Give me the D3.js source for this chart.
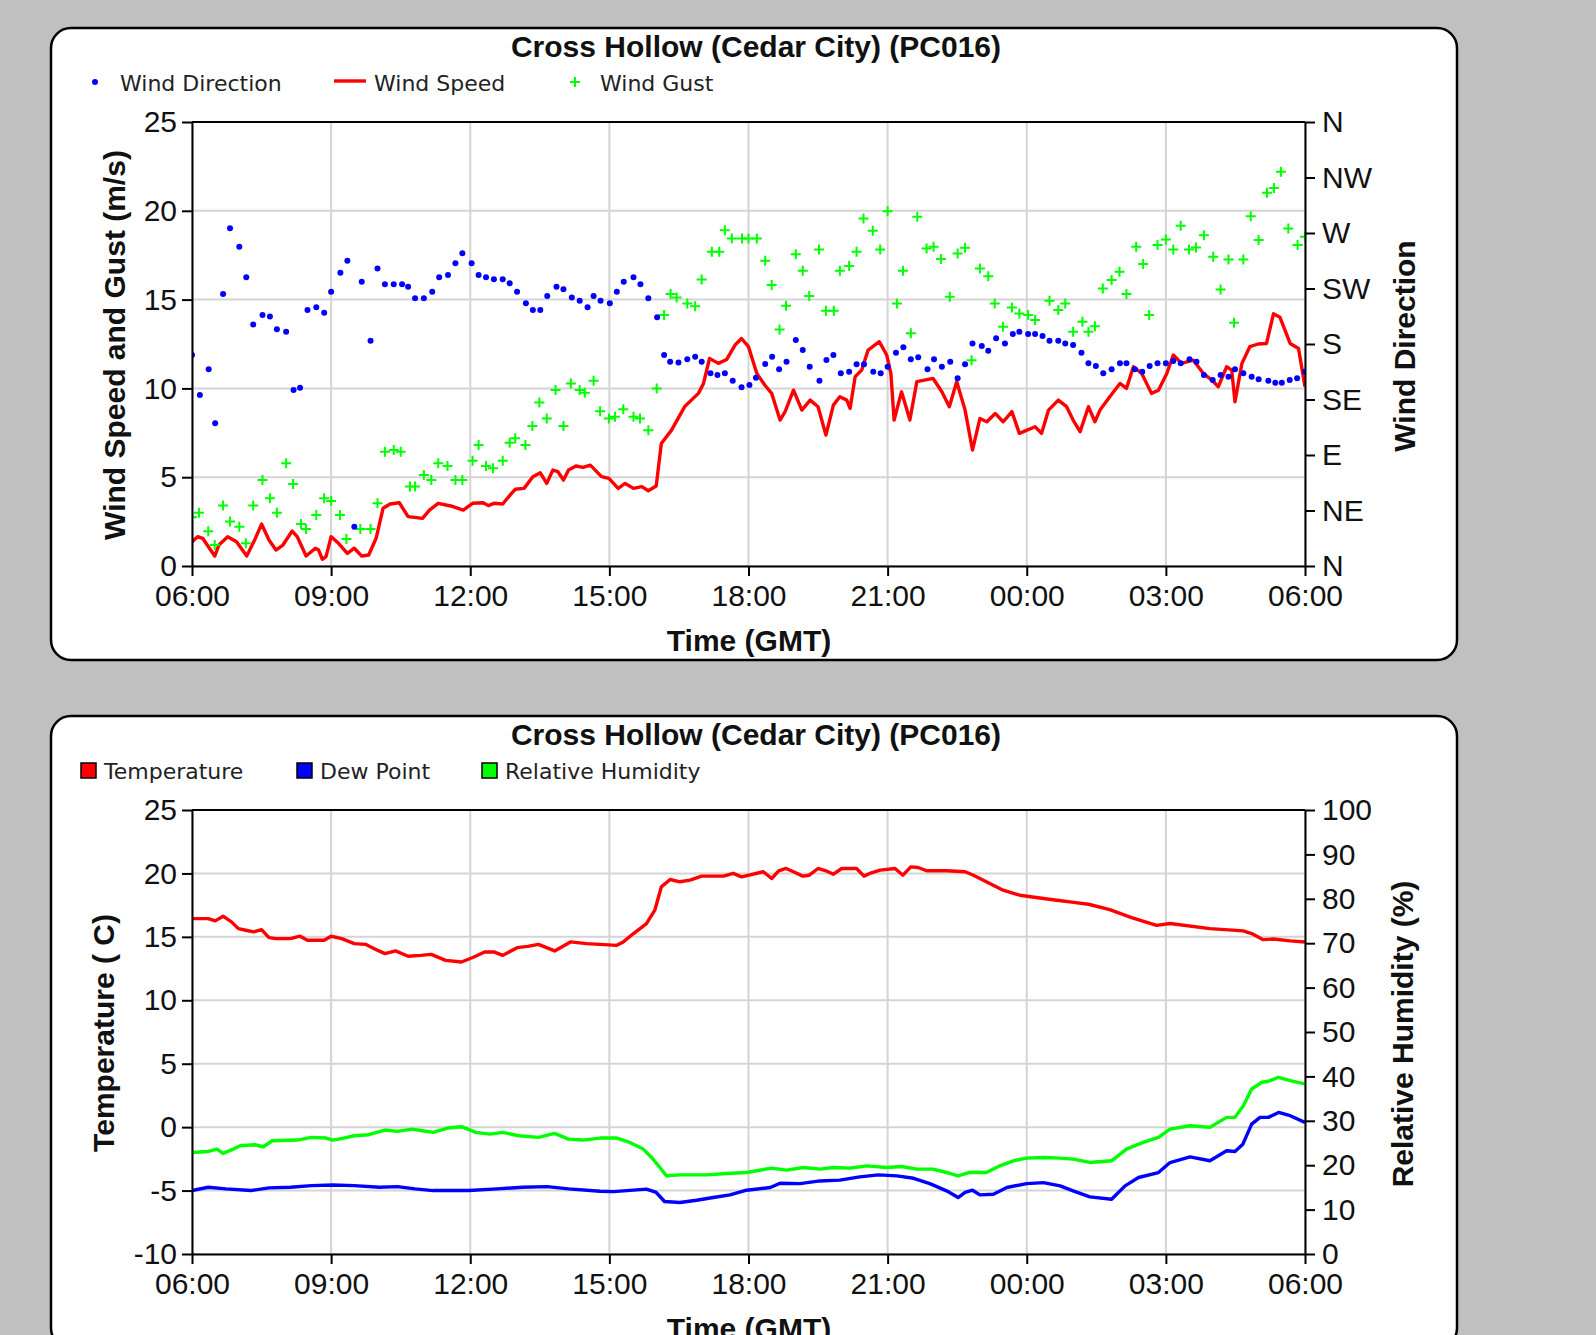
<!DOCTYPE html>
<html>
<head>
<meta charset="utf-8">
<script src="https://cdn.jsdelivr.net/npm/d3@7"></script>
<style>
html, body { margin: 0; padding: 0; background: #c0c0c0; overflow: hidden; }
svg { display: block; }
.tick text { font-family: 'Liberation Sans', Arial, sans-serif; font-size: 30px; fill: #111; }
.title { font-family: 'Liberation Sans', Arial, sans-serif; font-weight: bold; font-size: 30px; fill: #111; }
.legend { font-family: 'DejaVu Sans', Verdana, sans-serif; font-size: 22px; fill: #222; }
</style>
</head>
<body>
<svg id="page" width="1596" height="1335"></svg>
<script>
'use strict';

// every pair: [hours after 06:00 GMT, value]
var windDirection = [[0,171.1],[0.17,138.6],[0.36,159.5],[0.5,115.7],[0.67,220.5],[0.82,273.8],[1.02,258.9],[1.17,234.1],[1.32,195.9],[1.52,203.5],[1.68,202.2],[1.83,191.9],[2.03,190],[2.19,142.7],[2.33,144.6],[2.49,207.6],[2.68,209.7],[2.85,205.4],[3.0,222.4],[3.2,237.8],[3.35,247.6],[3.5,31.9],[3.66,230.5],[3.85,182.7],[4.0,241.3],[4.16,228.4],[4.35,228.4],[4.53,228.4],[4.66,226.5],[4.81,217],[5.0,217],[5.18,222.4],[5.33,234.1],[5.52,236],[5.68,245.4],[5.83,253.5],[6.03,245.4],[6.18,236],[6.34,234.1],[6.51,232.4],[6.7,232.4],[6.85,229.2],[7.01,222.4],[7.2,213],[7.35,207.6],[7.51,207.6],[7.66,218.9],[7.86,226.5],[8.01,224.3],[8.19,217.8],[8.36,215.1],[8.53,209.7],[8.66,218.9],[8.81,215.1],[9.01,213],[9.16,222.4],[9.31,230.5],[9.52,234.1],[9.67,228.4],[9.84,217],[10.03,201.6],[10.18,171.1],[10.31,165.7],[10.49,165.1],[10.68,167.6],[10.85,169.7],[10.99,165.7],[11.18,156.2],[11.33,154.9],[11.49,156.2],[11.66,150.3],[11.85,144.9],[12.02,146.8],[12.16,152.7],[12.36,163.8],[12.51,169.7],[12.66,159.5],[12.82,165.7],[13.02,183.2],[13.17,175.1],[13.32,161.6],[13.53,150.3],[13.68,167],[13.83,171.1],[13.99,156.2],[14.17,157.6],[14.33,163.5],[14.49,163.5],[14.69,157.6],[14.85,156.2],[15.0,161.6],[15.18,173],[15.34,177.3],[15.5,167.6],[15.66,169.2],[15.86,159.5],[16.0,167.6],[16.17,161.6],[16.35,165.7],[16.51,152.2],[16.67,163.5],[16.83,180.5],[17.03,178.4],[17.17,174.6],[17.34,184.6],[17.53,180.5],[17.7,188.1],[17.84,190],[18.03,188.1],[18.18,188.1],[18.34,186.5],[18.49,182.7],[18.68,182.7],[18.83,180.5],[19.0,179.2],[19.18,173],[19.33,164.3],[19.49,162.2],[19.65,156.2],[19.83,159.5],[20.01,164.3],[20.15,164.3],[20.33,159.5],[20.49,157.6],[20.65,162.2],[20.82,164.3],[21.0,164.3],[21.16,166.2],[21.32,164.3],[21.51,167.6],[21.66,165.7],[21.82,154.9],[22.01,150.8],[22.18,154.9],[22.35,153.5],[22.49,159.5],[22.67,156.2],[22.85,153.5],[23.0,151.4],[23.21,150.3],[23.36,148.6],[23.5,148.6],[23.67,150.8],[23.83,152.2],[24.0,157.6]];

var windSpeed = [[0,1.37],[0.12,1.65],[0.23,1.56],[0.35,1.1],[0.49,0.56],[0.58,1.18],[0.77,1.65],[0.96,1.37],[1.18,0.56],[1.35,1.46],[1.5,2.36],[1.66,1.46],[1.81,0.9],[1.96,1.18],[2.16,1.97],[2.27,1.65],[2.46,0.56],[2.66,1.0],[2.73,0.9],[2.81,0.38],[2.89,0.53],[3.0,1.65],[3.16,1.28],[3.35,0.71],[3.5,1.0],[3.66,0.56],[3.81,0.62],[3.97,1.56],[4.12,3.25],[4.27,3.49],[4.47,3.56],[4.66,2.78],[4.97,2.68],[5.12,3.15],[5.31,3.53],[5.58,3.38],[5.85,3.15],[6.05,3.53],[6.28,3.56],[6.39,3.4],[6.51,3.53],[6.7,3.49],[6.89,4.09],[6.97,4.32],[7.16,4.37],[7.35,5.03],[7.51,5.25],[7.65,4.65],[7.78,5.4],[7.89,5.31],[8.01,4.84],[8.12,5.4],[8.28,5.63],[8.43,5.55],[8.59,5.68],[8.83,5.03],[8.99,4.93],[9.19,4.37],[9.34,4.65],[9.52,4.37],[9.7,4.47],[9.84,4.24],[10.01,4.5],[10.12,6.9],[10.34,7.65],[10.63,9.0],[10.92,9.72],[11.03,10.28],[11.16,11.69],[11.35,11.41],[11.53,11.63],[11.71,12.44],[11.85,12.81],[12.0,12.35],[12.18,10.84],[12.35,10.19],[12.5,9.72],[12.68,8.22],[12.79,8.69],[12.97,9.9],[13.15,8.78],[13.33,9.34],[13.5,8.97],[13.67,7.37],[13.83,9.06],[13.97,9.53],[14.12,9.34],[14.19,8.87],[14.3,10.66],[14.44,11.03],[14.58,12.16],[14.82,12.63],[14.98,11.88],[15.07,10.84],[15.14,8.22],[15.3,9.81],[15.48,8.22],[15.63,10.38],[15.98,10.56],[16.17,9.81],[16.33,8.97],[16.49,10.38],[16.67,8.78],[16.83,6.53],[16.99,8.31],[17.14,8.12],[17.32,8.59],[17.49,8.12],[17.68,8.69],[17.84,7.47],[18.18,7.84],[18.32,7.47],[18.47,8.78],[18.68,9.34],[18.86,8.97],[19.0,8.22],[19.15,7.56],[19.33,8.97],[19.47,8.12],[19.58,8.78],[19.79,9.53],[20.01,10.28],[20.15,10.0],[20.3,11.22],[20.48,10.84],[20.69,9.72],[20.84,9.9],[21.02,10.84],[21.16,11.88],[21.34,11.41],[21.59,11.59],[21.81,10.84],[21.99,10.47],[22.13,10.09],[22.31,11.22],[22.42,11.03],[22.49,9.25],[22.64,11.41],[22.81,12.35],[22.99,12.5],[23.17,12.53],[23.32,14.2],[23.46,14.0],[23.68,12.53],[23.86,12.25],[24.0,10.09]];

var windGust = [[0,2.74],[0.15,3.0],[0.35,1.95],[0.49,1.18],[0.67,3.4],[0.82,2.5],[1.02,2.21],[1.16,1.28],[1.32,3.4],[1.52,4.84],[1.68,3.81],[1.83,3.0],[2.03,5.78],[2.18,4.62],[2.35,2.36],[2.46,2.08],[2.68,2.87],[2.85,3.81],[3.0,3.66],[3.19,2.87],[3.33,1.52],[3.63,2.08],[3.85,2.08],[4.0,3.53],[4.16,6.43],[4.35,6.53],[4.5,6.43],[4.7,4.47],[4.81,4.47],[5.0,5.12],[5.16,4.84],[5.31,5.78],[5.51,5.63],[5.68,4.84],[5.83,4.84],[6.05,5.93],[6.18,6.81],[6.34,5.63],[6.49,5.5],[6.7,5.93],[6.85,6.94],[6.97,7.19],[7.19,6.81],[7.34,7.88],[7.49,9.21],[7.65,8.31],[7.84,9.91],[8.01,7.88],[8.17,10.28],[8.36,9.91],[8.47,9.76],[8.66,10.43],[8.8,8.72],[8.99,8.31],[9.12,8.4],[9.3,8.82],[9.52,8.4],[9.66,8.31],[9.84,7.65],[10.02,10.0],[10.18,14.13],[10.32,15.31],[10.45,15.12],[10.68,14.78],[10.85,14.63],[10.99,16.13],[11.21,17.69],[11.37,17.69],[11.49,18.91],[11.64,18.44],[11.86,18.44],[12.0,18.44],[12.18,18.44],[12.36,17.19],[12.5,15.82],[12.67,13.32],[12.81,14.65],[13.02,17.56],[13.17,16.62],[13.31,15.2],[13.52,17.82],[13.67,14.37],[13.84,14.37],[13.97,16.62],[14.17,16.89],[14.33,17.69],[14.48,19.57],[14.68,18.87],[14.84,17.82],[15.0,19.98],[15.2,14.78],[15.33,16.62],[15.5,13.1],[15.64,19.66],[15.84,17.88],[15.99,17.97],[16.15,17.28],[16.34,15.16],[16.51,17.6],[16.67,17.92],[16.81,11.59],[16.99,16.75],[17.17,16.32],[17.31,14.78],[17.49,13.47],[17.68,14.56],[17.84,14.22],[18.03,14.13],[18.18,13.85],[18.49,14.93],[18.68,14.41],[18.83,14.78],[19.0,13.19],[19.2,13.75],[19.33,13.19],[19.47,13.5],[19.64,15.63],[19.83,16.1],[20.0,16.57],[20.15,15.31],[20.36,17.97],[20.51,17.0],[20.64,14.13],[20.82,18.07],[21.0,18.39],[21.16,17.82],[21.32,19.16],[21.5,17.82],[21.65,17.94],[21.82,18.63],[22.02,17.41],[22.18,15.57],[22.35,17.26],[22.47,13.7],[22.67,17.26],[22.83,19.7],[23.0,18.35],[23.18,21.01],[23.33,21.29],[23.48,22.2],[23.64,19.0],[23.84,18.07],[24.0,18.54]];

var temperature = [[0,16.44],[0.35,16.44],[0.5,16.26],[0.67,16.63],[0.85,16.18],[1.0,15.65],[1.16,15.52],[1.33,15.39],[1.5,15.57],[1.66,14.94],[1.81,14.86],[2.12,14.86],[2.33,15.05],[2.49,14.73],[2.85,14.73],[3.0,15.05],[3.23,14.86],[3.5,14.47],[3.74,14.41],[3.93,14.07],[4.16,13.68],[4.39,13.89],[4.66,13.47],[4.93,13.54],[5.16,13.62],[5.47,13.15],[5.81,13.02],[6.08,13.41],[6.31,13.81],[6.51,13.81],[6.7,13.54],[7.01,14.15],[7.24,14.25],[7.47,14.41],[7.82,13.89],[8.16,14.6],[8.51,14.47],[8.8,14.41],[9.16,14.33],[9.3,14.6],[9.52,15.26],[9.8,16.05],[9.98,17.1],[10.12,18.94],[10.31,19.52],[10.52,19.34],[10.74,19.47],[10.99,19.79],[11.46,19.79],[11.67,20.0],[11.85,19.73],[12.32,20.13],[12.5,19.6],[12.65,20.21],[12.81,20.39],[12.97,20.13],[13.17,19.79],[13.31,19.86],[13.5,20.39],[13.67,20.21],[13.83,19.94],[14.01,20.39],[14.33,20.39],[14.49,19.79],[14.65,20.05],[14.84,20.26],[15.16,20.39],[15.33,19.86],[15.5,20.52],[15.66,20.47],[15.84,20.21],[16.27,20.21],[16.67,20.13],[16.85,19.86],[17.17,19.26],[17.49,18.68],[17.85,18.28],[18.36,18.02],[18.65,17.89],[18.93,17.76],[19.33,17.57],[19.79,17.15],[20.26,16.52],[20.8,15.91],[21.09,16.05],[21.95,15.65],[22.67,15.47],[22.85,15.26],[23.1,14.78],[23.32,14.83],[23.68,14.68],[24,14.6]];

var dewPoint = [[0,-5.0],[0.35,-4.74],[0.73,-4.87],[1.27,-5.0],[1.66,-4.79],[2.12,-4.74],[2.58,-4.61],[3.04,-4.56],[3.5,-4.61],[4.04,-4.74],[4.43,-4.69],[4.81,-4.87],[5.2,-5.0],[5.97,-5.0],[6.58,-4.87],[7.12,-4.74],[7.66,-4.69],[8.12,-4.87],[8.8,-5.05],[9.09,-5.08],[9.8,-4.89],[10.01,-5.15],[10.19,-5.86],[10.52,-5.94],[10.88,-5.76],[11.24,-5.55],[11.6,-5.34],[11.96,-4.97],[12.47,-4.76],[12.68,-4.42],[13.11,-4.45],[13.54,-4.24],[13.97,-4.18],[14.4,-3.92],[14.8,-3.76],[15.2,-3.84],[15.56,-4.03],[15.91,-4.45],[16.27,-5.02],[16.52,-5.55],[16.67,-5.15],[16.83,-4.97],[16.99,-5.34],[17.28,-5.29],[17.57,-4.76],[18.0,-4.45],[18.36,-4.37],[18.72,-4.63],[19.0,-5.02],[19.36,-5.5],[19.83,-5.68],[20.12,-4.63],[20.41,-3.97],[20.84,-3.58],[21.09,-2.79],[21.52,-2.34],[21.95,-2.65],[22.31,-1.86],[22.49,-1.92],[22.66,-1.34],[22.85,0.24],[23.03,0.77],[23.21,0.77],[23.43,1.16],[23.68,0.9],[24,0.37]];

var humidity = [[0,22.87],[0.35,23.1],[0.54,23.63],[0.67,22.65],[0.89,23.63],[1.04,24.38],[1.35,24.6],[1.54,24.15],[1.73,25.51],[2.27,25.66],[2.58,26.26],[2.89,26.11],[3.04,25.66],[3.27,26.11],[3.5,26.64],[3.81,26.86],[4.16,27.92],[4.43,27.61],[4.74,28.14],[4.97,27.77],[5.2,27.39],[5.51,28.37],[5.81,28.67],[6.12,27.39],[6.43,27.01],[6.7,27.39],[7.05,26.64],[7.47,26.26],[7.82,27.16],[8.12,25.88],[8.43,25.66],[8.8,26.11],[9.16,26.11],[9.44,25.13],[9.73,23.63],[9.91,21.75],[10.09,19.49],[10.23,17.61],[10.52,17.83],[11.1,17.83],[11.53,18.13],[11.96,18.36],[12.5,19.34],[12.82,18.89],[13.18,19.49],[13.54,19.11],[13.83,19.49],[14.19,19.34],[14.55,19.86],[14.98,19.49],[15.3,19.71],[15.63,19.11],[15.98,19.11],[16.27,18.36],[16.52,17.61],[16.77,18.36],[17.13,18.36],[17.42,19.86],[17.71,20.99],[18.0,21.6],[18.36,21.75],[18.72,21.6],[19.0,21.37],[19.36,20.62],[19.83,20.99],[20.15,23.63],[20.51,25.13],[20.84,26.26],[21.09,28.14],[21.52,28.89],[21.95,28.52],[22.31,30.77],[22.49,30.77],[22.67,33.41],[22.85,37.17],[23.07,38.68],[23.21,38.9],[23.43,39.8],[23.68,39.05],[24,38.3]];

var compassLabels = ['N', 'NE', 'E', 'SE', 'S', 'SW', 'W', 'NW', 'N'];
var speedTicks = [0, 5, 10, 15, 20, 25];
var tempTicks = [-10, -5, 0, 5, 10, 15, 20, 25];
var humidityTicks = [0, 10, 20, 30, 40, 50, 60, 70, 80, 90, 100];
var stationTitle = 'Cross Hollow (Cedar City) (PC016)';

var svg = d3.select('#page');
var t0 = Date.UTC(2020, 5, 1, 6);
function toTime(h) { return new Date(t0 + h * 3600e3); }
function plain(d) { return String(d); } // keeps the ascii hyphen for negatives

var plotTop = 122, plotBottom = 566, plotLeft = 192, plotRight = 1305;
var x = d3.scaleUtc().domain([toTime(0), toTime(24)]).range([plotLeft, plotRight]);
var timeTicks = x.ticks(d3.utcHour.every(3));

function makePanel(offset, id) {
	var g = svg.append('g').attr('transform', 'translate(0,' + offset + ')');
	g.append('rect')
		.attr('x', 51).attr('y', 28).attr('width', 1406).attr('height', 632)
		.attr('rx', 20).attr('fill', '#fff').attr('stroke', '#000').attr('stroke-width', 2.5);
	g.append('text').attr('class', 'title').attr('x', 756).attr('y', 57)
		.attr('text-anchor', 'middle').text(stationTitle);
	g.append('text').attr('class', 'title').attr('x', 749).attr('y', 651)
		.attr('text-anchor', 'middle').text('Time (GMT)');
	g.append('clipPath').attr('id', id).append('rect')
		.attr('x', plotLeft).attr('y', plotTop)
		.attr('width', plotRight - plotLeft).attr('height', plotBottom - plotTop);
	return g;
}

function grid(g, yLeft, ticks) {
	var gg = g.append('g').attr('stroke', '#d4d4d4').attr('stroke-width', 2);
	gg.selectAll('.vg').data(timeTicks).enter().append('line')
		.attr('x1', function (d) { return x(d); }).attr('x2', function (d) { return x(d); })
		.attr('y1', plotTop).attr('y2', plotBottom);
	gg.selectAll('.hg').data(ticks).enter().append('line')
		.attr('x1', plotLeft).attr('x2', plotRight)
		.attr('y1', function (d) { return yLeft(d); }).attr('y2', function (d) { return yLeft(d); });
}

function axes(g, yLeft, leftTicks, yRight, rightTicks, rightFormat) {
	g.append('g').attr('transform', 'translate(0,' + plotBottom + ')')
		.call(d3.axisBottom(x).tickValues(timeTicks).tickFormat(d3.utcFormat('%H:%M'))
			.tickSize(10).tickSizeOuter(0).tickPadding(9));
	g.append('g').attr('transform', 'translate(' + plotLeft + ',0)')
		.call(d3.axisLeft(yLeft).tickValues(leftTicks).tickFormat(plain)
			.tickSize(10).tickSizeOuter(0).tickPadding(5));
	g.append('g').attr('transform', 'translate(' + plotRight + ',0)')
		.call(d3.axisRight(yRight).tickValues(rightTicks).tickFormat(rightFormat)
			.tickSize(10).tickSizeOuter(0).tickPadding(7));
	g.append('line').attr('x1', plotLeft).attr('x2', plotRight)
		.attr('y1', plotTop).attr('y2', plotTop).attr('stroke', '#000').attr('stroke-width', 2);
	g.selectAll('.domain, .tick line').attr('stroke', '#000').attr('stroke-width', 2);
}

function axisTitle(g, txt, xBase, yMid) {
	g.append('text').attr('class', 'title')
		.attr('transform', 'translate(' + xBase + ',' + yMid + ') rotate(-90)')
		.attr('text-anchor', 'middle').text(txt);
}

var plusPath = 'M-5,0H5M0,-5V5';

// ---------- wind panel ----------
var wind = makePanel(0, 'clipWind');
var ySpeed = d3.scaleLinear().domain([0, 25]).range([plotBottom, plotTop]);
var yDir = d3.scaleLinear().domain([0, 360]).range([plotBottom, plotTop]);
grid(wind, ySpeed, speedTicks);

var windPlot = wind.append('g').attr('clip-path', 'url(#clipWind)');
windPlot.append('path').datum(windSpeed)
	.attr('fill', 'none').attr('stroke', '#ff0000').attr('stroke-width', 3.4)
	.attr('stroke-linejoin', 'round')
	.attr('d', d3.line().x(function (d) { return x(toTime(d[0])); }).y(function (d) { return ySpeed(d[1]); }));
windPlot.selectAll('.gust').data(windGust).enter().append('path')
	.attr('d', plusPath).attr('stroke', '#00ff00').attr('stroke-width', 2).attr('fill', 'none')
	.attr('transform', function (d) { return 'translate(' + x(toTime(d[0])) + ',' + ySpeed(d[1]) + ')'; });
windPlot.selectAll('.dir').data(windDirection).enter().append('circle')
	.attr('r', 3).attr('fill', '#0000ff')
	.attr('cx', function (d) { return x(toTime(d[0])); })
	.attr('cy', function (d) { return yDir(d[1]); });

axes(wind, ySpeed, speedTicks, yDir, d3.range(0, 361, 45), function (d, i) { return compassLabels[i]; });
axisTitle(wind, 'Wind Speed and Gust (m/s)', 125, 345);
axisTitle(wind, 'Wind Direction', 1415, 346);

wind.append('circle').attr('cx', 95).attr('cy', 82).attr('r', 3).attr('fill', '#0000ff');
wind.append('text').attr('class', 'legend').attr('x', 120).attr('y', 91).text('Wind Direction');
wind.append('line').attr('x1', 334).attr('x2', 366).attr('y1', 81).attr('y2', 81)
	.attr('stroke', '#ff0000').attr('stroke-width', 3.4);
wind.append('text').attr('class', 'legend').attr('x', 374).attr('y', 91).text('Wind Speed');
wind.append('path').attr('d', plusPath).attr('stroke', '#00ff00').attr('stroke-width', 2)
	.attr('transform', 'translate(575,82)');
wind.append('text').attr('class', 'legend').attr('x', 600).attr('y', 91).text('Wind Gust');

// ---------- temperature panel ----------
var temp = makePanel(688, 'clipTemp');
var yTemp = d3.scaleLinear().domain([-10, 25]).range([plotBottom, plotTop]);
var yRH = d3.scaleLinear().domain([0, 100]).range([plotBottom, plotTop]);
grid(temp, yTemp, tempTicks);

var tempPlot = temp.append('g').attr('clip-path', 'url(#clipTemp)');
var series = [
	{ data: temperature, y: yTemp, color: '#ff0000' },
	{ data: dewPoint, y: yTemp, color: '#0000ff' },
	{ data: humidity, y: yRH, color: '#00ff00' }
];
series.forEach(function (s) {
	tempPlot.append('path').datum(s.data)
		.attr('fill', 'none').attr('stroke', s.color).attr('stroke-width', 3.4)
		.attr('stroke-linejoin', 'round')
		.attr('d', d3.line().x(function (d) { return x(toTime(d[0])); }).y(function (d) { return s.y(d[1]); }));
});

axes(temp, yTemp, tempTicks, yRH, humidityTicks, plain);
axisTitle(temp, 'Temperature ( C)', 114, 345);
axisTitle(temp, 'Relative Humidity (%)', 1413, 346);

var legendItems = [
	{ label: 'Temperature', color: '#ff0000', x: 81 },
	{ label: 'Dew Point', color: '#0000ff', x: 297 },
	{ label: 'Relative Humidity', color: '#00ff00', x: 482 }
];
legendItems.forEach(function (d) {
	temp.append('rect').attr('x', d.x).attr('y', 75).attr('width', 15).attr('height', 15)
		.attr('fill', d.color).attr('stroke', '#000').attr('stroke-width', 1.5);
	temp.append('text').attr('class', 'legend').attr('x', d.x + 23).attr('y', 91).text(d.label);
});
</script>
</body>
</html>
